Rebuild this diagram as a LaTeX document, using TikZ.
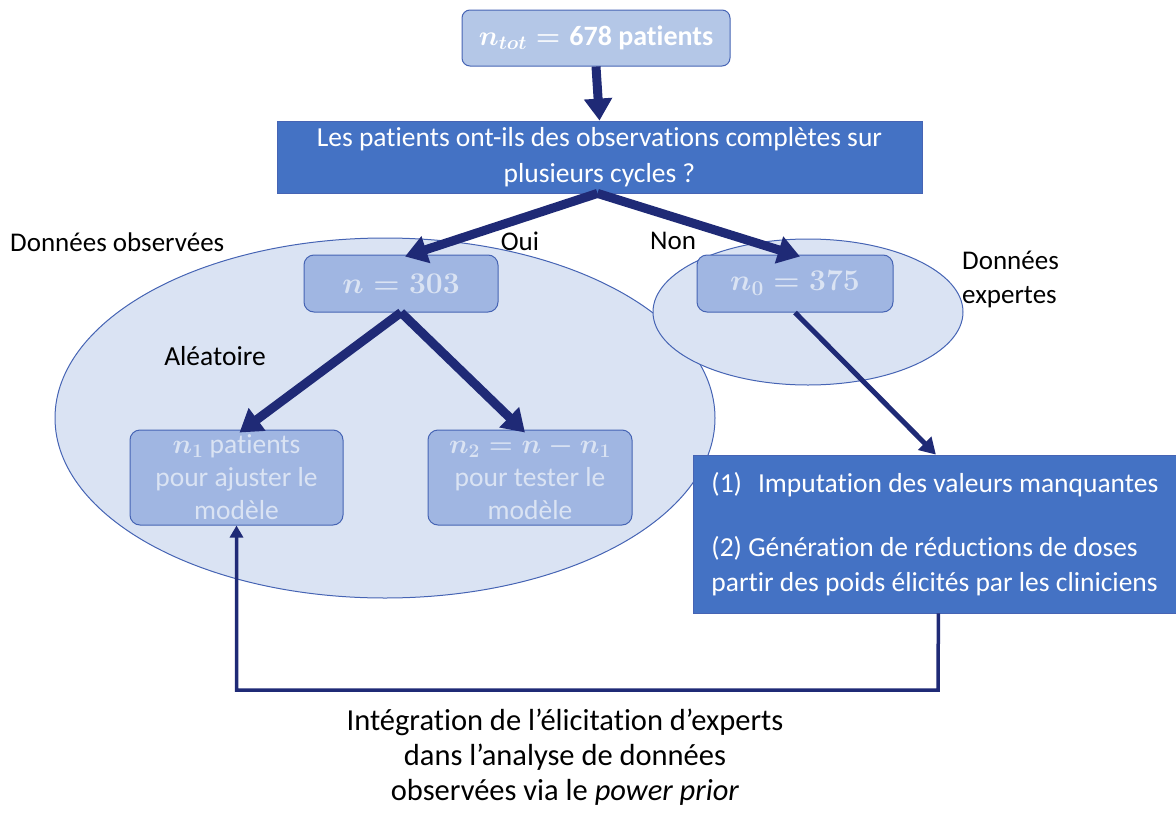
\RequirePackage{fix-cm}
\documentclass[tikz,border=0pt]{standalone}
\usepackage{fontspec}
\setmainfont{Carlito}[Ligatures=NoCommon]
\usepackage{amsmath,bm}
\usetikzlibrary{arrows.meta,shapes.geometric,positioning}
\definecolor{navy}{RGB}{31,42,118}
\definecolor{mid}{RGB}{68,114,196}
\definecolor{pale}{RGB}{218,227,243}
\definecolor{light}{RGB}{180,199,231}
\definecolor{inner}{RGB}{160,182,226}
\definecolor{edge}{RGB}{70,100,180}
\begin{document}
\begin{tikzpicture}[x=1pt,y=-1pt,
  bigarrow/.style={draw=navy,line width=9pt,-{Triangle[width=27pt,length=22pt]}},
  medarrow/.style={draw=navy,line width=5pt,-{Triangle[width=18pt,length=16pt]}},
  thinarrow/.style={draw=navy,line width=3.5pt,-{Triangle[width=13pt,length=12pt]}},
  darkbox/.style={draw=edge,line width=0.8pt,fill=mid,text=white,align=center,inner sep=0pt},
  subbox/.style={draw=edge,line width=1pt,fill=inner,rounded corners=10pt,text=pale,align=center,inner sep=0pt},
  cloud/.style={ellipse,draw=edge,line width=1pt,fill=pale,inner sep=0pt},
  lbl/.style={text=black,inner sep=0pt}]
\useasboundingbox (0,0) rectangle (1176,814);
% ellipses
\node[cloud,minimum width=660pt,minimum height=360pt] (obs) at (385,418) {};
\node[cloud,minimum width=310pt,minimum height=146pt] (exp) at (808,312) {};
% top box
\node[draw=edge,line width=1pt,fill=light,rounded corners=8pt,text=white,minimum width=268pt,minimum height=56pt,inner sep=0pt,font=\fontsize{28}{32}\selectfont\boldmath] (tot) at (596,38) {$n_{tot}=\text{\textbf{678}}$ \textbf{patients}};
% question box
\node[darkbox,minimum width=645pt,minimum height=72pt,font=\fontsize{27.5}{36}\selectfont] (q) at (599.5,157) {Les patients ont-ils des observations complètes sur\\plusieurs cycles ?};
% sub boxes
\node[subbox,minimum width=194pt,minimum height=57pt,font=\fontsize{30}{34}\selectfont\boldmath] (n) at (401,283.5) {$n=303$};
\node[subbox,minimum width=196pt,minimum height=57pt,font=\fontsize{30}{34}\selectfont\boldmath] (n0) at (795,283.5) {$n_0=375$};
\node[subbox,minimum width=213pt,minimum height=95pt,font=\fontsize{27.5}{33}\selectfont\boldmath] (n1) at (236.5,477.5) {$n_1$ patients\\pour ajuster le\\modèle};
\node[subbox,minimum width=204pt,minimum height=95pt,font=\fontsize{27.5}{33}\selectfont\boldmath] (n2) at (530,477.5) {$n_2=n-n_1$\\pour tester le\\modèle};
% right box
\node[darkbox,anchor=west,minimum height=158pt,minimum width=483pt,font=\fontsize{27.5}{35}\selectfont,align=left] (rb) at (693,534) {(1)\hspace{16pt}Imputation des valeurs manquantes\\[29pt](2) Génération de réductions de doses\\partir des poids élicités par les cliniciens};
% labels
\node[lbl,anchor=west,font=\fontsize{27}{30}\selectfont] (lobs) at (10,242) {Données observées};
\node[lbl,anchor=west,font=\fontsize{27}{34}\selectfont,align=left] (lexp) at (962,279) {Données\\expertes};
\node[lbl,font=\fontsize{27.5}{30}\selectfont] (lalea) at (215,356) {Aléatoire};
\node[lbl,font=\fontsize{27}{30}\selectfont] (loui) at (520,241) {Oui};
\node[lbl,font=\fontsize{27}{30}\selectfont] (lnon) at (673,241) {Non};
\node[lbl,font=\fontsize{30.5}{35}\selectfont,align=center] (bottom) at (565,757) {Intégration de l’élicitation d’experts\\dans l’analyse de données\\observées via le \textit{power prior}};
% arrows
\draw[bigarrow] (tot.south) -- (q.north);
\draw[bigarrow] ([xshift=-2pt]q.south) -- ([xshift=4pt,yshift=-2pt]n.north);
\draw[bigarrow] ([xshift=-2pt]q.south) -- ([xshift=5pt,yshift=-2pt]n0.north);
\draw[bigarrow] (n.south) -- ([xshift=3pt,yshift=-3pt]n1.north);
\draw[bigarrow] (n.south) -- ([xshift=-5pt,yshift=-3pt]n2.north);
\draw[medarrow] (n0.south) -- ([xshift=1pt]rb.north);
\coordinate (c1) at (938,690);
\draw[thinarrow] ([xshift=3.5pt]rb.south) -- (c1) -| (n1.south);
\end{tikzpicture}
\end{document}
